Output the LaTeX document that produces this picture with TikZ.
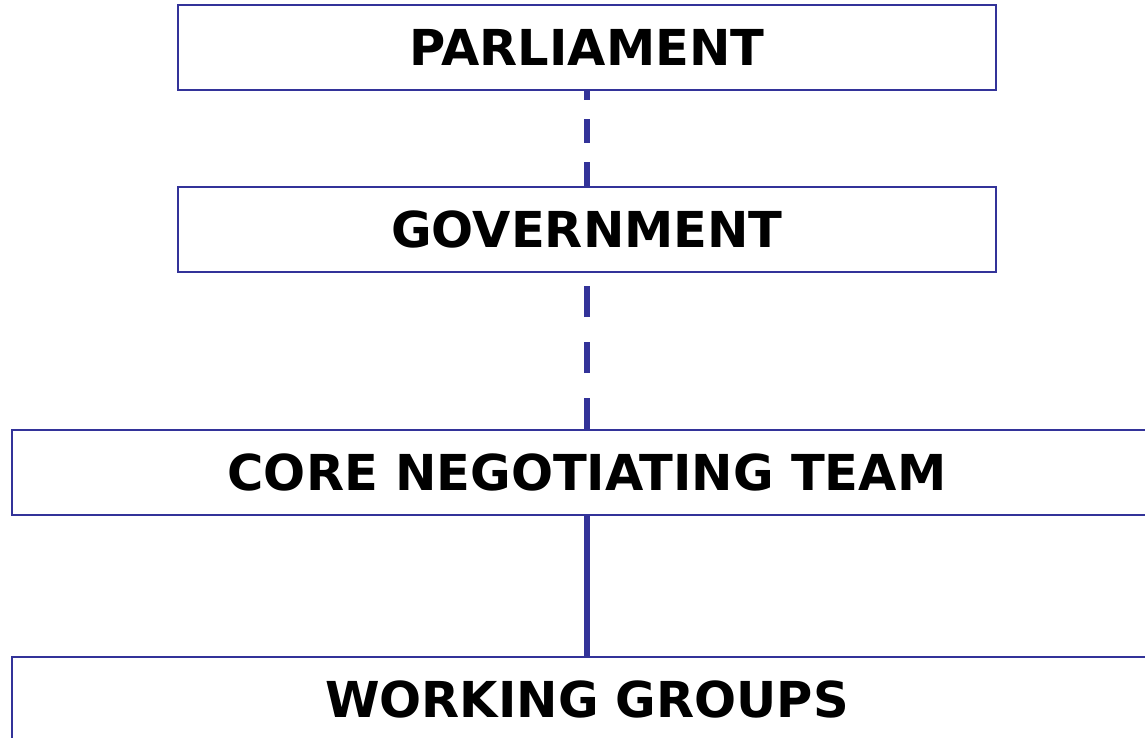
\documentclass[tikz,border=0pt]{standalone}
\usepackage{fontspec}
\setmainfont{DejaVu Sans}
\usepackage{tikz}
\usetikzlibrary{positioning}
\definecolor{govblue}{RGB}{51,51,153}

\tikzset{
  body/.style={draw=govblue, line width=2pt, fill=white, inner sep=0pt,
    minimum height=85pt, font=\fontsize{49.5}{55}\selectfont\bfseries},
  link/.style={draw=govblue, line width=6pt},
}

\begin{document}
\begin{tikzpicture}[x=1pt, y=1pt]

  \useasboundingbox (0,0) rectangle (1145,-738);

  % Boxes
  \node[body, minimum width=817.5pt] at (587,-47.5) (parl) {PARLIAMENT}; %
  \node[body, minimum width=817.5pt, below=95pt of parl] (gov) {GOVERNMENT}; %
  \node[body, minimum width=1150pt, below=156pt of gov] (cnt) {CORE NEGOTIATING TEAM}; %
  \node[body, minimum width=1150pt, below=140pt of cnt] (wg) {WORKING GROUPS}; %

  % Links
  \draw[link, dash pattern=on 24pt off 19pt] (gov) -- (parl) ; %
  \draw[link, dash pattern=on 31pt off 25pt] (cnt) -- (gov) ; %
  \draw[link] (cnt) -- (wg) ; %

\end{tikzpicture}
\end{document}
